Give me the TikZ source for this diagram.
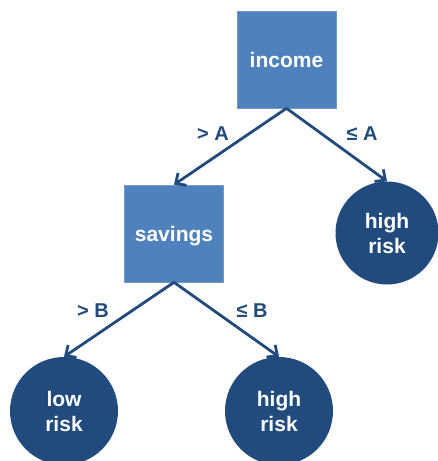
\documentclass[tikz,border=0pt]{standalone}
\usepackage{fontspec}
\setmainfont{Liberation Sans}
\usetikzlibrary{arrows.meta}
\definecolor{boxblue}{HTML}{4F81BD}
\definecolor{darkblue}{HTML}{214A7D}
\tikzset{
  testbox/.style={rectangle, fill=boxblue, draw=boxblue!80!white, line width=0.6pt, inner sep=0pt,
    minimum width=99pt, minimum height=97pt, text=white, font=\fontsize{21}{25}\selectfont\bfseries,
    text height=15.5pt, text depth=0pt},
  leafnode/.style={circle, fill=darkblue, inner sep=0pt, minimum size=#1, text=white, align=center,
    font=\fontsize{21}{25}\selectfont\bfseries},
  edgelbl/.style={anchor=base, text=darkblue, font=\fontsize{20}{24}\selectfont\bfseries, inner sep=0pt},
  branch/.style={draw=darkblue, line width=2.8pt, -{Straight Barb[length=8pt,width=15pt,line width=2.8pt]}}
}
\begin{document}
\begin{tikzpicture}[x=1pt,y=-1pt]
\useasboundingbox (0,0) rectangle (437,461);
\node[testbox] (income) at (286.5,59.5) {income};
\node[testbox] (savings) at (174,233.5) {savings};
\node[leafnode=103pt] (hr1) at (387,233) {high\\risk};
\node[leafnode=108pt] (lr) at (64,411) {low\\risk};
\node[leafnode=108pt] (hr2) at (279,411) {high\\risk};
\draw[branch] (income.south) -- (savings.north);
\draw[branch] (income.south) -- (hr1.north);
\draw[branch] (savings.south) -- (lr.north);
\draw[branch] (savings.south) -- (hr2.north);
\node[edgelbl] (la) at (213,140) {> A};
\node[edgelbl] (lb) at (362,140) {≤ A};
\node[edgelbl] (lc) at (93,317) {> B};
\node[edgelbl] (ld) at (252,317) {≤ B};
\end{tikzpicture}
\end{document}
